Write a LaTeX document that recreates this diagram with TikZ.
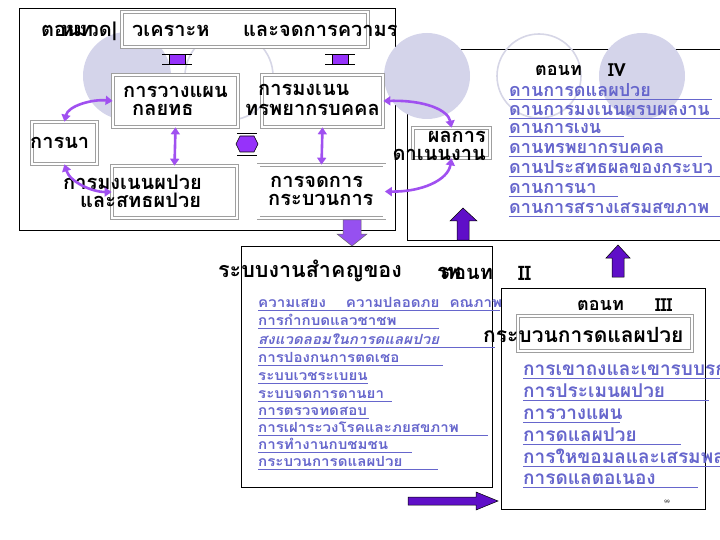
\documentclass[tikz,border=0pt]{standalone}
\usepackage{fontspec}
\newfontfamily\thaifont[Script=Thai]{Loma}
\newfontfamily\thaiwide[Script=Thai, FakeStretch=1.08]{Loma}
\usetikzlibrary{arrows.meta}

\definecolor{lavfill}{RGB}{212,212,234}
\definecolor{lavline}{RGB}{214,214,230}
\definecolor{linkblue}{RGB}{102,102,204}
\definecolor{curvepurple}{RGB}{160,80,240}
\definecolor{blockpurple}{RGB}{95,15,200}
\definecolor{lightblock}{RGB}{150,80,240}
\definecolor{markpurple}{RGB}{150,50,250}

\tikzset{
  bridgemark/.pic={
    \draw[line width=0.8pt] (-15,-5) -- (15,-5) (-15,5) -- (15,5);
    \filldraw[fill=markpurple, draw=black, line width=0.6pt] (-8,-5) rectangle (8,5);
  },
  hexmark/.pic={
    \draw[line width=0.8pt] (-10,-11) -- (10,-11) (-10,11) -- (10,11);
    \filldraw[fill=markpurple, draw=black, line width=0.6pt]
      (-11,0) -- (-7,-8) -- (7,-8) -- (11,0) -- (7,8) -- (-7,8) -- cycle;
  }
}

\begin{document}
\begin{tikzpicture}[
  x=1pt, y=-1pt,
  frame/.style={draw, line width=0.9pt, inner sep=0pt},
  bevel/.style={draw=gray!75, double=white, double distance=2.4pt,
    line width=0.7pt, fill=white, inner sep=0pt},
  heavy/.style={font=\thaifont\bfseries\fontsize{20}{23}\selectfont, inner sep=0pt},
  bigheavy/.style={font=\thaifont\bfseries\fontsize{21.5}{24}\selectfont, inner sep=0pt},
  head/.style={font=\thaifont\bfseries\fontsize{18}{21}\selectfont, inner sep=0pt},
  ivitem/.style={font=\thaifont\bfseries\fontsize{18}{20}\selectfont,
    text=linkblue, inner sep=0pt, anchor=base west},
  miditem/.style={font=\thaiwide\bfseries\fontsize{14}{16}\selectfont,
    text=linkblue, inner sep=0pt, anchor=base west},
  iiiitem/.style={font=\thaifont\bfseries\fontsize{19}{21}\selectfont,
    text=linkblue, inner sep=0pt, anchor=base west},
  underline/.style={linkblue, line width=1pt},
  curvearrow/.style={{Triangle[length=7pt,width=9pt]}-{Triangle[length=7pt,width=9pt]},
    curvepurple, line width=2.6pt},
  blockarrow/.style={draw=black, fill=blockpurple, line width=0.5pt},
  lightarrow/.style={draw=black!60, fill=lightblock, line width=0.5pt}
]
\useasboundingbox (0,0) rectangle (720,540);

% frames
\node[frame, minimum width=376, minimum height=222] (topframe) at (207,119) {};
\node[frame, minimum width=323, minimum height=191] (ivframe) at (568.5,144.5) {};
\node[frame, minimum width=251, minimum height=241] (midframe) at (366.5,366.5) {};
\node[frame, minimum width=204, minimum height=221] (iiiframe) at (603,398.5) {};

% background circles
\fill[lavfill] (127,76) circle (44pt);
\draw[lavline, line width=1.6pt] (229,76) circle (44pt);
\fill[lavfill] (427,76) circle (43pt);
\draw[lavline, line width=1.6pt] (539,76) circle (42pt);
\fill[lavfill] (642,76) circle (43pt);

% boxes
\node[bevel, minimum width=246, minimum height=35] (titlebox) at (245,29.5) {};
\node[bevel, minimum width=125, minimum height=52] (plan) at (175.5,101) {};
\node[bevel, minimum width=121, minimum height=52] (hr) at (322.5,101) {};
\node[bevel, minimum width=65, minimum height=42] (lead) at (64.5,143) {};
\node[bevel, minimum width=125, minimum height=52] (patient) at (174.5,192) {};
\node[bevel, minimum width=126, minimum height=53] (process) at (321.5,191.5) {};
\node[bevel, minimum width=77, minimum height=30] (result) at (451.5,143) {};
\node[bevel, minimum width=174, minimum height=35] (carebox) at (605,333.5) {};

% texts of the top frame
\node[heavy, anchor=west] (secno) at (41,31) {ตอนท};
\node[heavy, anchor=west] (secname) at (61,31) {หมวด|};
\node[heavy, anchor=west] (secword) at (132,31) {วเคราะห};
\node[heavy, anchor=west] (secrest) at (243,31) {และจดการความร};
\node[heavy, anchor=west] (planA) at (123,92) {การวางแผน};
\node[heavy, anchor=west] (planB) at (132,110) {กลยทธ};
\node[heavy, anchor=west] (hrA) at (258,90) {การมงเนน};
\node[heavy, anchor=west] (hrB) at (245,110) {ทรพยากรบคคล};
\node[heavy, anchor=west] (leadT) at (30,143) {การนา};
\node[heavy, anchor=west] (patA) at (63,182) {การมงเนนผปวย};
\node[heavy, anchor=west] (patB) at (80,200) {และสทธผปวย};
\node[heavy, anchor=west] (procA) at (270,182) {การจดการ};
\node[heavy, anchor=west] (procB) at (268,200) {กระบวนการ};
\node[heavy, anchor=east] (resA) at (486,137) {ผลการ};
\node[heavy, anchor=east] (resB) at (486,155) {ดาเนนงาน};

% small link marks
\pic at (177,59) {bridgemark};
\pic at (340,59) {bridgemark};
\pic at (247,144) {hexmark};

% curved and straight links
\draw[curvearrow] (lead.north) .. controls (68,106) and (92,99) .. (plan.west);
\draw[curvearrow] (lead.south) .. controls (70,182) and (92,192) .. (patient.west);
\draw[curvearrow] (plan.south) -- (patient.north);
\draw[curvearrow] (hr.south) -- (process.north);
\draw[curvearrow] (hr.east) .. controls (425,100) and (448,110) .. (result.north);
\draw[curvearrow] (result.south) .. controls (448,180) and (422,192) .. (process.east);

% part IV
\node[head, anchor=west] (ivno) at (535,70) {ตอนท};
\node[head, anchor=west] (ivnum) at (608,70) {IV};
\foreach \txt/\yy/\xe [count=\i] in {
  ดานการดแลผปวย/100/712,
  ดานการมงเนนผรบผลงาน/119/725,
  ดานการเงน/137/624,
  ดานทรพยากรบคคล/157/702,
  ดานประสทธผลของกระบว/177/725,
  ดานการนา/197/618,
  ดานการสรางเสรมสขภาพ/217/725} {
  \node[ivitem] (iv\i) at (509,\yy-3) {\txt};
  \draw[underline] (509,\yy) -- (\xe,\yy);
}

% part II
\node[bigheavy, anchor=west] (midtitle) at (218,271) {ระบบงานสำคญของ};
\node[heavy, anchor=west] (midrp) at (437,273) {รพ};
\node[heavy, anchor=west] (midno) at (441,274) {ตอนท};
\node[heavy, anchor=west] (midnum) at (518,273) {II};
\foreach \txt/\yy/\xe [count=\i] in {
  ความเสยง\hspace{20pt}ความปลอดภย\hspace{10pt}คณภาพ/310/500,
  การกำกบดแลวชาชพ/328/439,
  {\itshape สงแวดลอมในการดแลผปวย}/347/495,
  การปองกนการตดเชอ/365/443,
  ระบบเวชระเบยน/383/368,
  ระบบจดการดานยา/401/392,
  การตรวจทดสอบ/418/369,
  การเฝาระวงโรคและภยสขภาพ/435/488,
  การทำงานกบชมชน/452/412,
  กระบวนการดแลผปวย/469/438} {
  \node[miditem] (mid\i) at (258,\yy-3) {\txt};
  \draw[underline] (258,\yy) -- (\xe,\yy);
}

% part III
\node[head, anchor=west] (iiino) at (577,305) {ตอนท};
\node[head, anchor=west] (iiinum) at (655,305) {III};
\node[heavy, anchor=west, font=\thaifont\bfseries\fontsize{21}{24}\selectfont]
  (careT) at (483,335) {กระบวนการดแลผปวย};
\foreach \txt/\yy/\xe [count=\i] in {
  การเขาถงและเขารบบรก/378/725,
  การประเมนผปวย/400/709,
  การวางแผน/422/620,
  การดแลผปวย/444/681,
  การใหขอมลและเสรมพล/466/725,
  การดแลตอเนอง/487/698} {
  \node[iiiitem] (iii\i) at (523,\yy-3) {\txt};
  \draw[underline] (523,\yy) -- (\xe,\yy);
}
\node[font=\sffamily\tiny, inner sep=0pt] (pageno) at (667,502) {99};

% block arrows between the parts
\filldraw[lightarrow] (343,220) -- (361,220) -- (361,234) -- (367,234) -- (352,246)
  -- (337,234) -- (343,234) -- cycle;
\filldraw[blockarrow] (457,240) -- (469,240) -- (469,221) -- (477,221) -- (463,208)
  -- (450,221) -- (457,221) -- cycle;
\filldraw[blockarrow] (612,277) -- (624,277) -- (624,258) -- (630,258) -- (618,245)
  -- (606,258) -- (612,258) -- cycle;
\filldraw[blockarrow] (408,497) -- (476,497) -- (476,492) -- (498,501) -- (476,510)
  -- (476,505) -- (408,505) -- cycle;

\end{tikzpicture}
\end{document}
